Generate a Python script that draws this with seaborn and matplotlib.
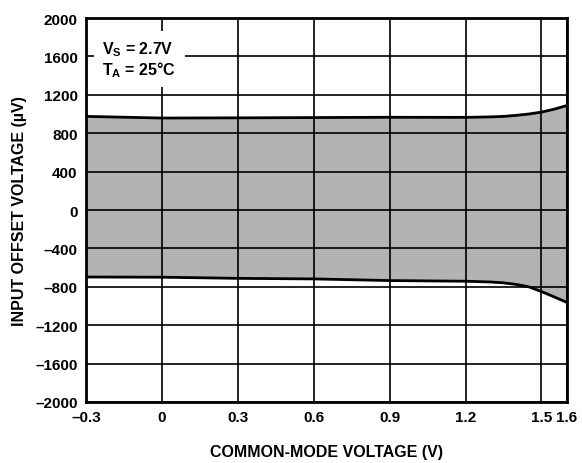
import matplotlib
matplotlib.use("Agg")
import matplotlib.pyplot as plt
import seaborn as sns
import pandas as pd

# Data
cm_voltage = [-0.3, 0.0, 0.3, 0.6, 0.9, 1.2, 1.3, 1.35, 1.4, 1.45, 1.5, 1.55, 1.6]
vos_upper = [975, 958, 960, 963, 966, 965, 970, 975, 986, 1000, 1020, 1050, 1088]
vos_lower = [-698, -700, -712, -718, -735, -742, -750, -759, -775, -800, -850, -905, -962]
x_ticks = [-0.3, 0, 0.3, 0.6, 0.9, 1.2, 1.5, 1.6]
x_tick_labels = ["\u20130.3", "0", "0.3", "0.6", "0.9", "1.2", "1.5", "1.6"]
y_ticks = [-2000, -1600, -1200, -800, -400, 0, 400, 800, 1200, 1600, 2000]
y_tick_labels = ["\u20132000", "\u20131600", "\u20131200", "\u2013800", "\u2013400", "0",
                 "400", "800", "1200", "1600", "2000"]

sns.set_theme(style="white")
plt.rcParams['font.family'] = ['Liberation Sans', 'DejaVu Sans']
plt.rcParams['text.color'] = 'black'
plt.rcParams['axes.labelcolor'] = 'black'
plt.rcParams['xtick.color'] = 'black'
plt.rcParams['ytick.color'] = 'black'

df = pd.DataFrame({"x": cm_voltage, "up": vos_upper, "lo": vos_lower})

fig = plt.figure(figsize=(5.82, 4.64), dpi=100)
ax = fig.add_axes([0.1478, 0.1315, 0.826, 0.8275])

ax.fill_between(df["x"], df["lo"], df["up"], color="#b3b3b3", zorder=1, linewidth=0)
ax.set_xlim(-0.3, 1.6)
ax.set_ylim(-2000, 2000)
ax.set_xticks(x_ticks)
ax.set_xticklabels(x_tick_labels)
ax.set_yticks(y_ticks)
ax.set_yticklabels(y_tick_labels)
ax.grid(True, color="black", linewidth=1.2, zorder=2)
ax.set_axisbelow(False)
for ln in ax.get_xgridlines() + ax.get_ygridlines():
    ln.set_zorder(2)

sns.lineplot(data=df, x="x", y="up", ax=ax, color="black", linewidth=2.0, zorder=3)
sns.lineplot(data=df, x="x", y="lo", ax=ax, color="black", linewidth=2.0, zorder=3)

for s in ax.spines.values():
    s.set_color("black")
    s.set_linewidth(2.0)
    s.set_zorder(4)

ax.tick_params(axis="both", length=0, pad=6, labelsize=11, labelcolor="black")
for lbl in ax.get_xticklabels() + ax.get_yticklabels():
    lbl.set_fontweight("bold")

ax.set_xlabel("COMMON-MODE VOLTAGE (V)", fontsize=11.5, fontweight="bold", labelpad=14)
ax.set_ylabel("INPUT OFFSET VOLTAGE (\u00b5V)", fontsize=11.5, fontweight="bold", labelpad=6)

ax.text(-0.235, 1570, "V$_\\mathregular{S}$ = 2.7V\nT$_\\mathregular{A}$ = 25\u00b0C",
        fontsize=11.5, fontweight="bold", va="center", ha="left", zorder=5,
        linespacing=1.05,
        bbox=dict(facecolor="white", edgecolor="none", pad=6))

fig.savefig("out.png", dpi=100)
